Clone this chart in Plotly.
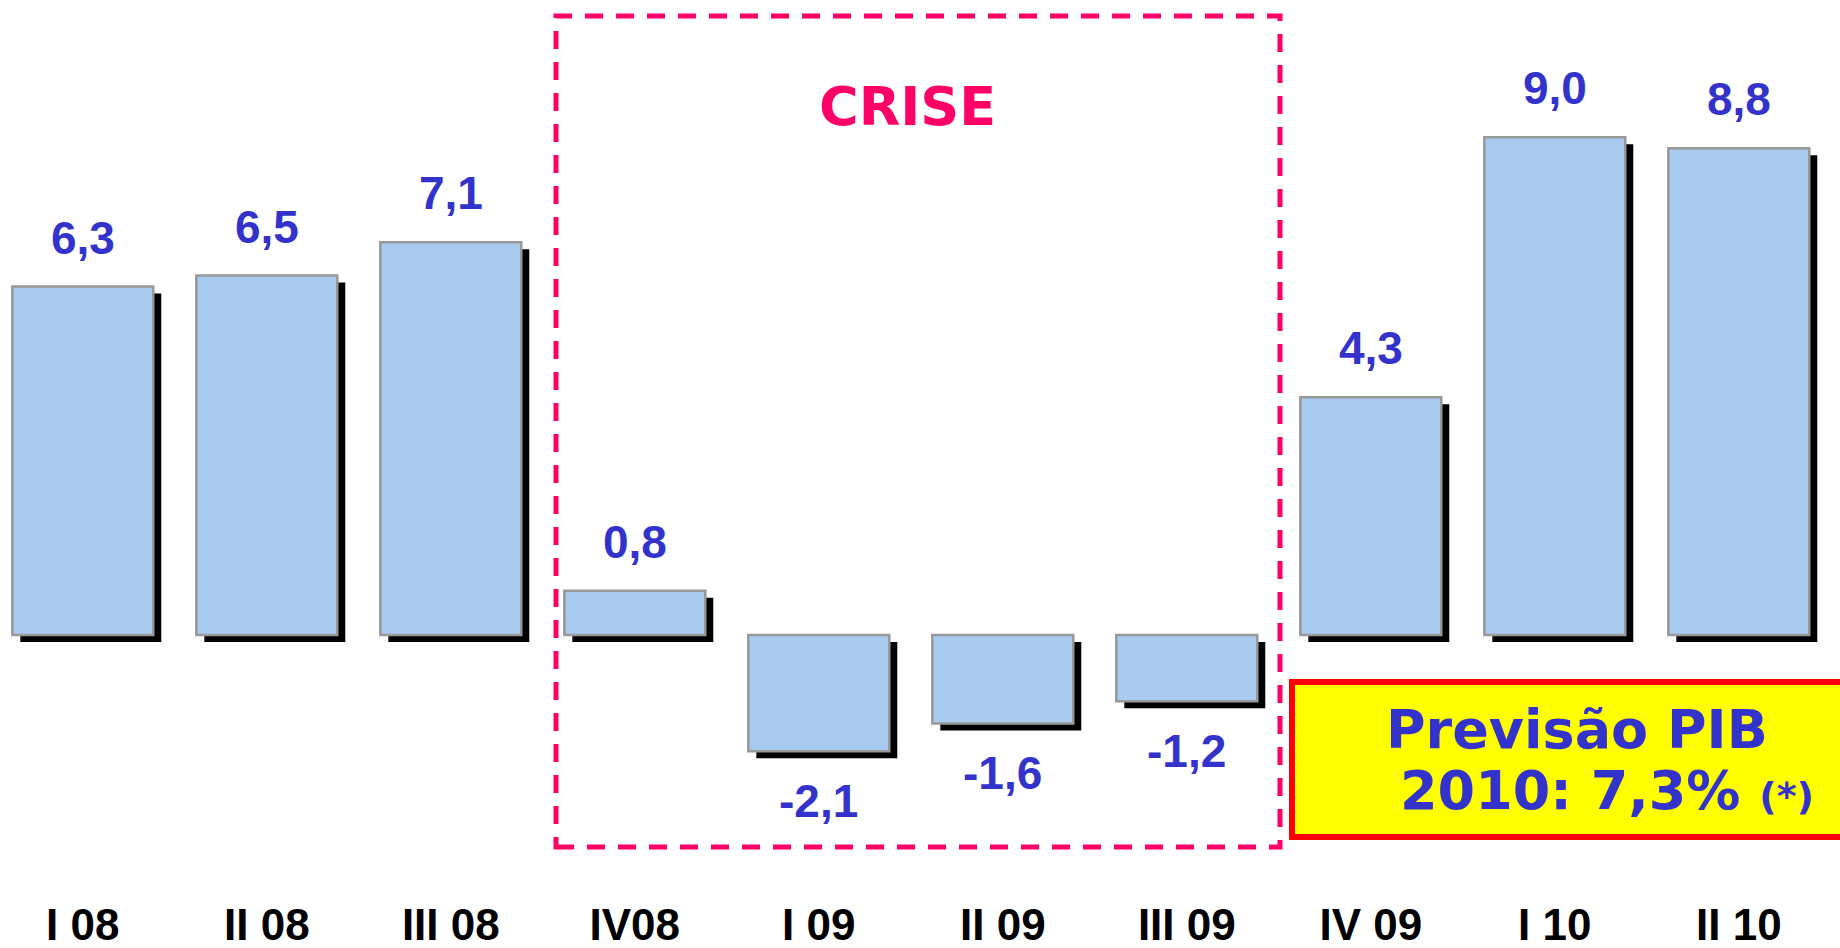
import plotly.graph_objects as go

# ---- data ----
quarters = ["I 08", "II 08", "III 08", "IV08", "I 09", "II 09", "III 09", "IV 09", "I 10", "II 10"]
growth = [6.3, 6.5, 7.1, 0.8, -2.1, -1.6, -1.2, 4.3, 9.0, 8.8]
value_labels = ["6,3", "6,5", "7,1", "0,8", "-2,1", "-1,6", "-1,2", "4,3", "9,0", "8,8"]
crisis_title = "CRISE"
forecast_line1 = "Previsão PIB"
forecast_line2 = "2010: 7,3%"
forecast_note = "(*)"

# ---- geometry helpers (layout only) ----
W, H = 1840, 948
PLOT_H = 895            # plot area height in px (top margin 0)
ZERO_PX = 635           # pixel row of value 0
PX_PER_UNIT = 55.3
Y_TOP = ZERO_PX / PX_PER_UNIT
Y_BOT = -(PLOT_H - ZERO_PX) / PX_PER_UNIT
CAT_PX = 184.0          # px per category
X0 = -0.45
X1 = X0 + W / CAT_PX


def py(px):
    return (ZERO_PX - px) / PX_PER_UNIT


BAR_W = 0.766
SH_DX = 8 / CAT_PX
SH_DY = 7 / PX_PER_UNIT

BLUE_TXT = "#3333CC"
PINK = "#FF0066"

fig = go.Figure()

# shadow
fig.add_trace(go.Bar(
    x=quarters, y=growth, base=[-SH_DY] * len(growth),
    width=BAR_W, offset=-BAR_W / 2 + SH_DX,
    marker=dict(color="#000000", line=dict(width=0)),
    hoverinfo="skip", showlegend=False,
))
# bars
fig.add_trace(go.Bar(
    x=quarters, y=growth, width=BAR_W, offset=-BAR_W / 2,
    marker=dict(color="#A8CBEF", line=dict(color="#999999", width=2.5)),
    showlegend=False,
))

# value labels
for q, v, t in zip(quarters, growth, value_labels):
    fig.add_annotation(
        x=q, y=v, text="<b>" + t + "</b>", showarrow=False,
        xanchor="center", yanchor="bottom" if v >= 0 else "top",
        yshift=21 if v >= 0 else -22,
        font=dict(family="Liberation Sans, Arial", size=46, color=BLUE_TXT),
    )

# crisis dashed box
fig.add_shape(type="rect", xref="paper", yref="y",
              x0=556 / W, x1=1280 / W, y0=py(847), y1=py(16),
              line=dict(color=PINK, width=5, dash="18px,13px"),
              fillcolor="rgba(0,0,0,0)", layer="above")
fig.add_annotation(xref="paper", yref="y", x=907 / W, y=py(106),
                   text="<b>" + crisis_title + "</b>", showarrow=False,
                   xanchor="center", yanchor="middle",
                   font=dict(family="DejaVu Sans", size=54, color=PINK))

# forecast box
fig.add_shape(type="rect", xref="paper", yref="y",
              x0=1292 / W, x1=1.02, y0=py(837), y1=py(682),
              line=dict(color="#FF0000", width=6),
              fillcolor="#FFFF00", layer="above")
fig.add_annotation(xref="paper", yref="y", x=1384 / W, y=py(729),
                   text="<b>" + forecast_line1 + "</b>", showarrow=False,
                   xanchor="left", yanchor="middle",
                   font=dict(family="DejaVu Sans", size=54, color=BLUE_TXT))
fig.add_annotation(xref="paper", yref="y", x=1398 / W, y=py(790),
                   text="<b>" + forecast_line2 + " <span style='font-size:38px'>" + forecast_note + "</span></b>",
                   showarrow=False, xanchor="left", yanchor="middle",
                   font=dict(family="DejaVu Sans", size=54, color=BLUE_TXT))

fig.update_layout(
    width=W, height=H,
    margin=dict(l=0, r=0, t=0, b=H - PLOT_H, pad=0),
    barmode="overlay",
    plot_bgcolor="white", paper_bgcolor="white",
    xaxis=dict(range=[X0, X1], showgrid=False, zeroline=False, showline=False,
               ticks="", automargin=False, fixedrange=True,
               tickfont=dict(family="Liberation Sans, Arial", size=44, color="#000000"),
               tickmode="array", tickvals=quarters,
               ticktext=["<b>" + q + "</b>" for q in quarters]),
    yaxis=dict(range=[Y_BOT, Y_TOP], visible=False, showgrid=False, zeroline=False,
               fixedrange=True),
)

fig.write_html("out.html", config={"displayModeBar": False},
               post_script="document.body.style.margin='0';")
